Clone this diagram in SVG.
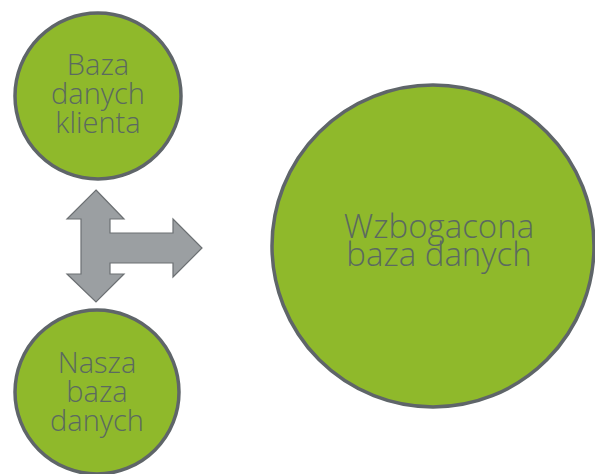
<svg xmlns="http://www.w3.org/2000/svg" width="595" height="474" viewBox="0 0 595 474">
<style>
.node{fill:#8fb92b;stroke:#5f6569;stroke-width:3.5}
.lbl{font-family:"Open Sans","Noto Sans","DejaVu Sans",sans-serif;font-weight:300;font-size:29px;fill:#5b6a60;text-anchor:middle}
.big{font-size:33px}
.arrow{fill:#9b9fa2;stroke:#6c7073;stroke-width:1.2;stroke-linejoin:miter}
</style>
<rect width="595" height="474" fill="#ffffff"/>
<g id="connectors">
<path class="arrow" d="M96,190 L124,219 L110,219 L110,233 L173,233 L173,219 L202,248 L173,277 L173,263 L110,263 L110,274 L124,274 L96,302 L67,274 L81,274 L81,219 L67,219 Z"/>
</g>
<g id="klient">
<circle class="node" cx="98" cy="96" r="83"/>
<text class="lbl" x="98" y="75">Baza</text>
<text class="lbl" x="98" y="104">danych</text>
<text class="lbl" x="98" y="133">klienta</text>
</g>
<g id="nasza">
<circle class="node" cx="97" cy="392" r="82"/>
<text class="lbl" x="97" y="373">Nasza</text>
<text class="lbl" x="97" y="402">baza</text>
<text class="lbl" x="97" y="431">danych</text>
</g>
<g id="wzbogacona">
<circle class="node" cx="433" cy="246" r="161"/>
<text class="lbl big" x="439" y="238">Wzbogacona</text>
<text class="lbl big" x="439" y="266">baza danych</text>
</g>
</svg>
